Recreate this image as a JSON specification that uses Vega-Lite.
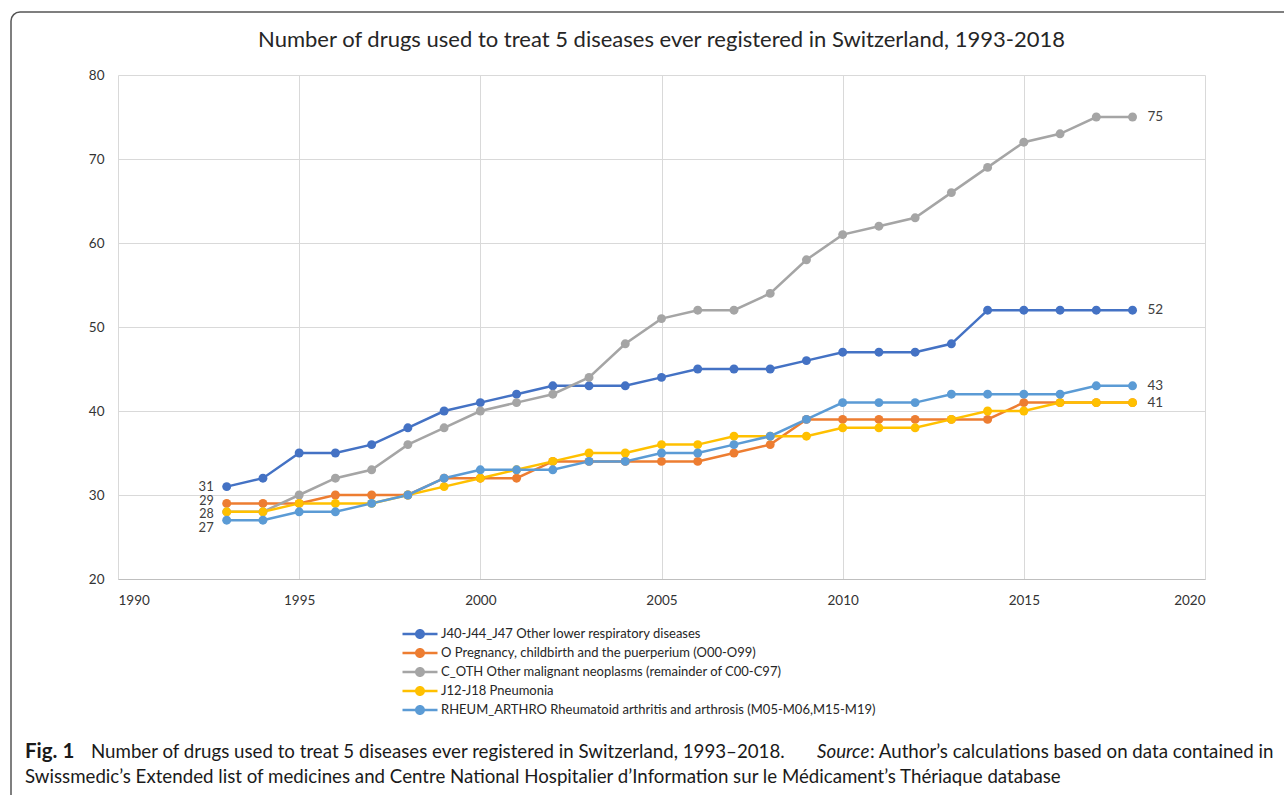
{
  "$schema": "https://vega.github.io/schema/vega-lite/v6.json",
  "autosize": "none",
  "width": 1087,
  "height": 504,
  "padding": {"left": 118, "top": 75, "right": 79, "bottom": 216},
  "background": "white",
  "title": {
    "text": "Number of drugs used to treat 5 diseases ever registered in Switzerland, 1993-2018",
    "font": "Lato",
    "fontSize": 22,
    "fontWeight": "normal",
    "color": "#262626",
    "anchor": "middle",
    "offset": -41
  },
  "config": {
    "view": {"stroke": null},
    "axis": {"labelFont": "Lato", "labelFontSize": 13.5, "labelColor": "#333333", "ticks": false, "gridColor": "#d9d9d9", "gridWidth": 1, "title": null}
  },
  "layer": [
    {
      "data": {
        "values": [
          {"year": 1993, "J40-J44_J47 Other lower respiratory diseases": 31, "O Pregnancy, childbirth and the puerperium (O00-O99)": 29, "C_OTH Other malignant neoplasms (remainder of C00-C97)": 28, "J12-J18 Pneumonia": 28, "RHEUM_ARTHRO Rheumatoid arthritis and arthrosis (M05-M06,M15-M19)": 27},
          {"year": 1994, "J40-J44_J47 Other lower respiratory diseases": 32, "O Pregnancy, childbirth and the puerperium (O00-O99)": 29, "C_OTH Other malignant neoplasms (remainder of C00-C97)": 28, "J12-J18 Pneumonia": 28, "RHEUM_ARTHRO Rheumatoid arthritis and arthrosis (M05-M06,M15-M19)": 27},
          {"year": 1995, "J40-J44_J47 Other lower respiratory diseases": 35, "O Pregnancy, childbirth and the puerperium (O00-O99)": 29, "C_OTH Other malignant neoplasms (remainder of C00-C97)": 30, "J12-J18 Pneumonia": 29, "RHEUM_ARTHRO Rheumatoid arthritis and arthrosis (M05-M06,M15-M19)": 28},
          {"year": 1996, "J40-J44_J47 Other lower respiratory diseases": 35, "O Pregnancy, childbirth and the puerperium (O00-O99)": 30, "C_OTH Other malignant neoplasms (remainder of C00-C97)": 32, "J12-J18 Pneumonia": 29, "RHEUM_ARTHRO Rheumatoid arthritis and arthrosis (M05-M06,M15-M19)": 28},
          {"year": 1997, "J40-J44_J47 Other lower respiratory diseases": 36, "O Pregnancy, childbirth and the puerperium (O00-O99)": 30, "C_OTH Other malignant neoplasms (remainder of C00-C97)": 33, "J12-J18 Pneumonia": 29, "RHEUM_ARTHRO Rheumatoid arthritis and arthrosis (M05-M06,M15-M19)": 29},
          {"year": 1998, "J40-J44_J47 Other lower respiratory diseases": 38, "O Pregnancy, childbirth and the puerperium (O00-O99)": 30, "C_OTH Other malignant neoplasms (remainder of C00-C97)": 36, "J12-J18 Pneumonia": 30, "RHEUM_ARTHRO Rheumatoid arthritis and arthrosis (M05-M06,M15-M19)": 30},
          {"year": 1999, "J40-J44_J47 Other lower respiratory diseases": 40, "O Pregnancy, childbirth and the puerperium (O00-O99)": 32, "C_OTH Other malignant neoplasms (remainder of C00-C97)": 38, "J12-J18 Pneumonia": 31, "RHEUM_ARTHRO Rheumatoid arthritis and arthrosis (M05-M06,M15-M19)": 32},
          {"year": 2000, "J40-J44_J47 Other lower respiratory diseases": 41, "O Pregnancy, childbirth and the puerperium (O00-O99)": 32, "C_OTH Other malignant neoplasms (remainder of C00-C97)": 40, "J12-J18 Pneumonia": 32, "RHEUM_ARTHRO Rheumatoid arthritis and arthrosis (M05-M06,M15-M19)": 33},
          {"year": 2001, "J40-J44_J47 Other lower respiratory diseases": 42, "O Pregnancy, childbirth and the puerperium (O00-O99)": 32, "C_OTH Other malignant neoplasms (remainder of C00-C97)": 41, "J12-J18 Pneumonia": 33, "RHEUM_ARTHRO Rheumatoid arthritis and arthrosis (M05-M06,M15-M19)": 33},
          {"year": 2002, "J40-J44_J47 Other lower respiratory diseases": 43, "O Pregnancy, childbirth and the puerperium (O00-O99)": 34, "C_OTH Other malignant neoplasms (remainder of C00-C97)": 42, "J12-J18 Pneumonia": 34, "RHEUM_ARTHRO Rheumatoid arthritis and arthrosis (M05-M06,M15-M19)": 33},
          {"year": 2003, "J40-J44_J47 Other lower respiratory diseases": 43, "O Pregnancy, childbirth and the puerperium (O00-O99)": 34, "C_OTH Other malignant neoplasms (remainder of C00-C97)": 44, "J12-J18 Pneumonia": 35, "RHEUM_ARTHRO Rheumatoid arthritis and arthrosis (M05-M06,M15-M19)": 34},
          {"year": 2004, "J40-J44_J47 Other lower respiratory diseases": 43, "O Pregnancy, childbirth and the puerperium (O00-O99)": 34, "C_OTH Other malignant neoplasms (remainder of C00-C97)": 48, "J12-J18 Pneumonia": 35, "RHEUM_ARTHRO Rheumatoid arthritis and arthrosis (M05-M06,M15-M19)": 34},
          {"year": 2005, "J40-J44_J47 Other lower respiratory diseases": 44, "O Pregnancy, childbirth and the puerperium (O00-O99)": 34, "C_OTH Other malignant neoplasms (remainder of C00-C97)": 51, "J12-J18 Pneumonia": 36, "RHEUM_ARTHRO Rheumatoid arthritis and arthrosis (M05-M06,M15-M19)": 35},
          {"year": 2006, "J40-J44_J47 Other lower respiratory diseases": 45, "O Pregnancy, childbirth and the puerperium (O00-O99)": 34, "C_OTH Other malignant neoplasms (remainder of C00-C97)": 52, "J12-J18 Pneumonia": 36, "RHEUM_ARTHRO Rheumatoid arthritis and arthrosis (M05-M06,M15-M19)": 35},
          {"year": 2007, "J40-J44_J47 Other lower respiratory diseases": 45, "O Pregnancy, childbirth and the puerperium (O00-O99)": 35, "C_OTH Other malignant neoplasms (remainder of C00-C97)": 52, "J12-J18 Pneumonia": 37, "RHEUM_ARTHRO Rheumatoid arthritis and arthrosis (M05-M06,M15-M19)": 36},
          {"year": 2008, "J40-J44_J47 Other lower respiratory diseases": 45, "O Pregnancy, childbirth and the puerperium (O00-O99)": 36, "C_OTH Other malignant neoplasms (remainder of C00-C97)": 54, "J12-J18 Pneumonia": 37, "RHEUM_ARTHRO Rheumatoid arthritis and arthrosis (M05-M06,M15-M19)": 37},
          {"year": 2009, "J40-J44_J47 Other lower respiratory diseases": 46, "O Pregnancy, childbirth and the puerperium (O00-O99)": 39, "C_OTH Other malignant neoplasms (remainder of C00-C97)": 58, "J12-J18 Pneumonia": 37, "RHEUM_ARTHRO Rheumatoid arthritis and arthrosis (M05-M06,M15-M19)": 39},
          {"year": 2010, "J40-J44_J47 Other lower respiratory diseases": 47, "O Pregnancy, childbirth and the puerperium (O00-O99)": 39, "C_OTH Other malignant neoplasms (remainder of C00-C97)": 61, "J12-J18 Pneumonia": 38, "RHEUM_ARTHRO Rheumatoid arthritis and arthrosis (M05-M06,M15-M19)": 41},
          {"year": 2011, "J40-J44_J47 Other lower respiratory diseases": 47, "O Pregnancy, childbirth and the puerperium (O00-O99)": 39, "C_OTH Other malignant neoplasms (remainder of C00-C97)": 62, "J12-J18 Pneumonia": 38, "RHEUM_ARTHRO Rheumatoid arthritis and arthrosis (M05-M06,M15-M19)": 41},
          {"year": 2012, "J40-J44_J47 Other lower respiratory diseases": 47, "O Pregnancy, childbirth and the puerperium (O00-O99)": 39, "C_OTH Other malignant neoplasms (remainder of C00-C97)": 63, "J12-J18 Pneumonia": 38, "RHEUM_ARTHRO Rheumatoid arthritis and arthrosis (M05-M06,M15-M19)": 41},
          {"year": 2013, "J40-J44_J47 Other lower respiratory diseases": 48, "O Pregnancy, childbirth and the puerperium (O00-O99)": 39, "C_OTH Other malignant neoplasms (remainder of C00-C97)": 66, "J12-J18 Pneumonia": 39, "RHEUM_ARTHRO Rheumatoid arthritis and arthrosis (M05-M06,M15-M19)": 42},
          {"year": 2014, "J40-J44_J47 Other lower respiratory diseases": 52, "O Pregnancy, childbirth and the puerperium (O00-O99)": 39, "C_OTH Other malignant neoplasms (remainder of C00-C97)": 69, "J12-J18 Pneumonia": 40, "RHEUM_ARTHRO Rheumatoid arthritis and arthrosis (M05-M06,M15-M19)": 42},
          {"year": 2015, "J40-J44_J47 Other lower respiratory diseases": 52, "O Pregnancy, childbirth and the puerperium (O00-O99)": 41, "C_OTH Other malignant neoplasms (remainder of C00-C97)": 72, "J12-J18 Pneumonia": 40, "RHEUM_ARTHRO Rheumatoid arthritis and arthrosis (M05-M06,M15-M19)": 42},
          {"year": 2016, "J40-J44_J47 Other lower respiratory diseases": 52, "O Pregnancy, childbirth and the puerperium (O00-O99)": 41, "C_OTH Other malignant neoplasms (remainder of C00-C97)": 73, "J12-J18 Pneumonia": 41, "RHEUM_ARTHRO Rheumatoid arthritis and arthrosis (M05-M06,M15-M19)": 42},
          {"year": 2017, "J40-J44_J47 Other lower respiratory diseases": 52, "O Pregnancy, childbirth and the puerperium (O00-O99)": 41, "C_OTH Other malignant neoplasms (remainder of C00-C97)": 75, "J12-J18 Pneumonia": 41, "RHEUM_ARTHRO Rheumatoid arthritis and arthrosis (M05-M06,M15-M19)": 43},
          {"year": 2018, "J40-J44_J47 Other lower respiratory diseases": 52, "O Pregnancy, childbirth and the puerperium (O00-O99)": 41, "C_OTH Other malignant neoplasms (remainder of C00-C97)": 75, "J12-J18 Pneumonia": 41, "RHEUM_ARTHRO Rheumatoid arthritis and arthrosis (M05-M06,M15-M19)": 43}
        ]
      },
      "transform": [
        {"fold": ["J40-J44_J47 Other lower respiratory diseases", "O Pregnancy, childbirth and the puerperium (O00-O99)", "C_OTH Other malignant neoplasms (remainder of C00-C97)", "J12-J18 Pneumonia", "RHEUM_ARTHRO Rheumatoid arthritis and arthrosis (M05-M06,M15-M19)"], "as": ["series", "value"]}
      ],
      "encoding": {
        "x": {"field": "year", "type": "quantitative", "scale": {"domain": [1990, 2020], "nice": false, "zero": false},
          "axis": {"values": [1990, 1995, 2000, 2005, 2010, 2015, 2020], "format": "d", "labelPadding": 14, "domainColor": "#bfbfbf", "domainWidth": 1.2, "grid": true}},
        "y": {"field": "value", "type": "quantitative", "scale": {"domain": [20, 80], "nice": false, "zero": false},
          "axis": {"values": [20, 30, 40, 50, 60, 70, 80], "labelPadding": 14, "domain": false, "grid": true}}
      },
      "layer": [
        {
          "mark": {"type": "line", "strokeWidth": 2.5},
          "encoding": {
            "color": {"field": "series", "type": "nominal",
              "scale": {"domain": ["J40-J44_J47 Other lower respiratory diseases", "O Pregnancy, childbirth and the puerperium (O00-O99)", "C_OTH Other malignant neoplasms (remainder of C00-C97)", "J12-J18 Pneumonia", "RHEUM_ARTHRO Rheumatoid arthritis and arthrosis (M05-M06,M15-M19)"],
                "range": ["#4472C4", "#ED7D31", "#A5A5A5", "#FFC000", "#5B9BD5"]},
              "legend": {"orient": "none", "legendX": 292, "legendY": 549, "title": null, "padding": 0, "rowPadding": 2,
                "symbolType": "M-1.75,-0.12L1.75,-0.12L1.75,0.12L-1.75,0.12Z M0.5,0A0.5,0.5,0,1,1,-0.5,0A0.5,0.5,0,1,1,0.5,0Z",
                "symbolSize": 400, "symbolStrokeWidth": 0, "labelFont": "Lato", "labelFontSize": 13, "labelColor": "#262626", "labelOffset": 11, "labelLimit": 600}}
          }
        },
        {
          "mark": {"type": "point", "filled": true, "size": 80, "opacity": 1},
          "encoding": {"color": {"field": "series", "type": "nominal"}}
        },
        {
          "transform": [{"filter": {"and": [{"field": "year", "equal": 1993}, {"field": "series", "equal": "J40-J44_J47 Other lower respiratory diseases"}]}}],
          "mark": {"type": "text", "align": "right", "baseline": "middle", "dx": -13, "font": "Lato", "fontSize": 13, "color": "#404040"},
          "encoding": {"text": {"field": "value", "type": "quantitative"}}
        },
        {
          "transform": [{"filter": {"and": [{"field": "year", "equal": 1993}, {"field": "series", "equal": "O Pregnancy, childbirth and the puerperium (O00-O99)"}]}}],
          "mark": {"type": "text", "align": "right", "baseline": "middle", "dx": -13, "dy": -2.5, "font": "Lato", "fontSize": 12.5, "color": "#404040"},
          "encoding": {"text": {"field": "value", "type": "quantitative"}}
        },
        {
          "transform": [{"filter": {"and": [{"field": "year", "equal": 1993}, {"field": "series", "equal": "J12-J18 Pneumonia"}]}}],
          "mark": {"type": "text", "align": "right", "baseline": "middle", "dx": -13, "dy": 2, "font": "Lato", "fontSize": 12.5, "color": "#404040"},
          "encoding": {"text": {"field": "value", "type": "quantitative"}}
        },
        {
          "transform": [{"filter": {"and": [{"field": "year", "equal": 1993}, {"field": "series", "equal": "RHEUM_ARTHRO Rheumatoid arthritis and arthrosis (M05-M06,M15-M19)"}]}}],
          "mark": {"type": "text", "align": "right", "baseline": "middle", "dx": -13, "dy": 8, "font": "Lato", "fontSize": 13, "color": "#404040"},
          "encoding": {"text": {"field": "value", "type": "quantitative"}}
        },
        {
          "transform": [{"filter": {"and": [{"field": "year", "equal": 2018}, {"field": "series", "oneOf": ["J40-J44_J47 Other lower respiratory diseases", "C_OTH Other malignant neoplasms (remainder of C00-C97)", "J12-J18 Pneumonia", "RHEUM_ARTHRO Rheumatoid arthritis and arthrosis (M05-M06,M15-M19)"]}]}}],
          "mark": {"type": "text", "align": "left", "baseline": "middle", "dx": 15, "font": "Lato", "fontSize": 13.5, "color": "#404040"},
          "encoding": {"text": {"field": "value", "type": "quantitative"}}
        }
      ]
    },
    {
      "data": {"values": [{"t": "frame"}]},
      "mark": {"type": "rect", "x": -107, "y": -63, "x2": 1190, "y2": 760, "cornerRadius": 9, "fill": "transparent", "stroke": "#555555", "strokeWidth": 1.5},
      "encoding": {}
    },
    {
      "data": {"values": [{"t": "Fig. 1"}]},
      "mark": {"type": "text", "x": -93, "y": 677, "align": "left", "baseline": "middle", "font": "Lato", "fontSize": 20.5, "fontWeight": "bold", "color": "#1a1a1a"},
      "encoding": {"text": {"field": "t"}}
    },
    {
      "data": {"values": [{"t": "Number of drugs used to treat 5 diseases ever registered in Switzerland, 1993–2018."}]},
      "mark": {"type": "text", "x": -27, "y": 677, "align": "left", "baseline": "middle", "font": "Lato", "fontSize": 18.7, "color": "#1a1a1a"},
      "encoding": {"text": {"field": "t"}}
    },
    {
      "data": {"values": [{"t": "Source"}]},
      "mark": {"type": "text", "x": 699, "y": 677, "align": "left", "baseline": "middle", "font": "Lato", "fontSize": 18.7, "fontStyle": "italic", "color": "#1a1a1a"},
      "encoding": {"text": {"field": "t"}}
    },
    {
      "data": {"values": [{"t": ": Author’s calculations based on data contained in"}]},
      "mark": {"type": "text", "x": 752, "y": 677, "align": "left", "baseline": "middle", "font": "Lato", "fontSize": 18.7, "color": "#1a1a1a"},
      "encoding": {"text": {"field": "t"}}
    },
    {
      "data": {"values": [{"t": "Swissmedic’s Extended list of medicines and Centre National Hospitalier d’Information sur le Médicament’s Thériaque database"}]},
      "mark": {"type": "text", "x": -93, "y": 702, "align": "left", "baseline": "middle", "font": "Lato", "fontSize": 18.7, "color": "#1a1a1a"},
      "encoding": {"text": {"field": "t"}}
    }
  ]
}
